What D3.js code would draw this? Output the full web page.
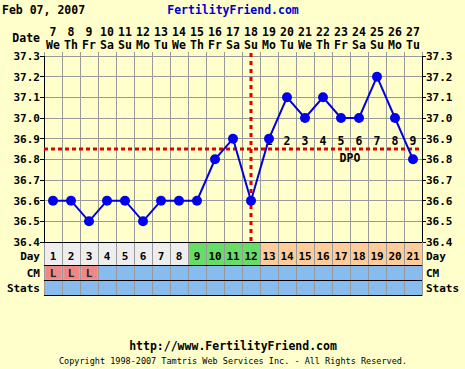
<!DOCTYPE html>
<html><head><meta charset="utf-8">
<script src="https://cdn.jsdelivr.net/npm/d3@7"></script>
<style>body{margin:0;background:#ffffcc;}svg{display:block;}</style>
</head><body>
<script>
const days = d3.range(1, 22);
const dates = [7,8,9,10,11,12,13,14,15,16,17,18,19,20,21,22,23,24,25,26,27];
const weekdays = ["We","Th","Fr","Sa","Su","Mo","Tu","We","Th","Fr","Sa","Su","Mo","Tu","We","Th","Fr","Sa","Su","Mo","Tu"];
const temps = [36.6,36.6,36.5,36.6,36.6,36.5,36.6,36.6,36.6,36.8,36.9,36.6,36.9,37.1,37.0,37.1,37.0,37.0,37.2,37.0,36.8];
const tempTicks = [36.4,36.5,36.6,36.7,36.8,36.9,37.0,37.1,37.2,37.3];
const dayPhase = ["a","a","a","a","a","a","a","a","f","f","f","f","l","l","l","l","l","l","l","l","l"];
const cm = ["L","L","L","","","","","","","","","","","","","","","","","",""];
const coverline = 36.85;
const ovulationDay = 12;
const dpo = [1,2,3,4,5,6,7,8,9];
const dpoDays = [13,14,15,16,17,18,19,20,21];

const W = 465, H = 369;
const L = 44, R = 422, T = 56, B = 242;
const svg = d3.select("body").append("svg").attr("width", W).attr("height", H);
svg.append("rect").attr("width", W).attr("height", H).attr("fill", "#ffffcc");

const font = "'DejaVu Sans Mono', monospace";
const x = d3.scaleBand().domain(days).range([L, R]);
const xc = d => x(d) + x.bandwidth() / 2;
const y = d3.scaleLinear().domain([36.4, 37.3]).range([B, T]);

// title
svg.append("text").attr("x", 2).attr("y", 14).attr("font-family", font).attr("font-weight", "bold")
  .attr("font-size", 11.5).attr("fill", "#000").text("Feb 07, 2007");
svg.append("text").attr("x", 233).attr("y", 14).attr("text-anchor", "middle").attr("font-family", font)
  .attr("font-weight", "bold").attr("font-size", 11.5).attr("fill", "#0000cc").text("FertilityFriend.com");

// header
svg.append("text").attr("x", 40).attr("y", 42).attr("text-anchor", "end").attr("font-family", font)
  .attr("font-weight", "bold").attr("font-size", 11.5).text("Date");
const hdr = svg.append("g").attr("font-family", font).attr("font-weight", "bold").attr("font-size", 11.5).attr("text-anchor", "middle");
hdr.selectAll(".dt").data(days).join("text").attr("x", d => xc(d)).attr("y", 36).text((d, i) => dates[i]);
hdr.selectAll(".wd").data(days).join("text").attr("x", d => xc(d)).attr("y", 49).text((d, i) => weekdays[i]);

// grid
const grid = svg.append("g").attr("stroke", "#999999").attr("stroke-width", 1).attr("shape-rendering", "crispEdges");
grid.selectAll(".v").data(d3.range(0, 22)).join("line")
  .attr("x1", i => L + i * x.bandwidth()).attr("x2", i => L + i * x.bandwidth())
  .attr("y1", T - 4).attr("y2", 295);
grid.selectAll(".h").data(tempTicks).join("line")
  .attr("x1", L).attr("x2", R).attr("y1", d => y(d)).attr("y2", d => y(d));
grid.selectAll(".tl").data(tempTicks).join("line").attr("x1", L - 4).attr("x2", L).attr("y1", d => y(d)).attr("y2", d => y(d)).attr("stroke", "#000");
grid.selectAll(".tr").data(tempTicks).join("line").attr("x1", R).attr("x2", R + 4).attr("y1", d => y(d)).attr("y2", d => y(d)).attr("stroke", "#000");
svg.append("line").attr("x1", L).attr("x2", L).attr("y1", T).attr("y2", 295).attr("stroke", "#000").attr("shape-rendering", "crispEdges");
svg.append("line").attr("x1", R).attr("x2", R).attr("y1", T).attr("y2", 295).attr("stroke", "#000").attr("shape-rendering", "crispEdges");

// axis labels
const ax = svg.append("g").attr("font-family", font).attr("font-weight", "bold").attr("font-size", 11);
ax.selectAll(".yl").data(tempTicks).join("text").attr("x", 40).attr("y", d => y(d) + 4).attr("text-anchor", "end").text(d => d.toFixed(1));
ax.selectAll(".yr").data(tempTicks).join("text").attr("x", 426).attr("y", d => y(d) + 4).text(d => d.toFixed(1));

// bottom rows
const rows = [{name: "Day", base: 259.5}, {name: "CM", base: 276.5}, {name: "Stats", base: 292}];
const phaseColor = {a: "#eeeeee", f: "#66dd66", l: "#ffcc99"};
const cells = svg.append("g").attr("shape-rendering", "crispEdges");
cells.selectAll(".dc").data(days).join("rect").attr("x", d => x(d)).attr("y", 242).attr("width", x.bandwidth()).attr("height", 23)
  .attr("fill", (d, i) => phaseColor[dayPhase[i]]).attr("stroke", "#999999");
cells.selectAll(".cc").data(days).join("rect").attr("x", d => x(d)).attr("y", 265).attr("width", x.bandwidth()).attr("height", 15)
  .attr("fill", "#88bbee").attr("stroke", "#999999");
cells.selectAll(".lc").data(days.filter((d, i) => cm[i])).join("rect").attr("x", d => x(d) + 2).attr("y", 266).attr("width", x.bandwidth() - 3).attr("height", 13)
  .attr("fill", "#ee8888");
cells.selectAll(".sc").data(days).join("rect").attr("x", d => x(d)).attr("y", 280).attr("width", x.bandwidth()).attr("height", 15)
  .attr("fill", "#88bbee").attr("stroke", "#999999");
cells.selectAll(".hl").data([242, 265, 280, 295]).join("line").attr("x1", L).attr("x2", R).attr("y1", d => d).attr("y2", d => d).attr("stroke", "#000");
const rt = svg.append("g").attr("font-family", font).attr("font-weight", "bold").attr("font-size", 11);
rt.selectAll(".dn").data(days).join("text").attr("x", d => xc(d)).attr("y", 259.5).attr("text-anchor", "middle").text(d => d);
rt.selectAll(".cmt").data(days.filter((d, i) => cm[i])).join("text").attr("x", d => xc(d)).attr("y", 276.5).attr("text-anchor", "middle").attr("fill", "#222").text(d => cm[d - 1]);
rt.selectAll(".rl").data(rows).join("text").attr("x", 40).attr("y", d => d.base).attr("text-anchor", "end").text(d => d.name);
rt.selectAll(".rr").data(rows).join("text").attr("x", 426).attr("y", d => d.base).text(d => d.name);

// coverline & ovulation line
svg.append("line").attr("x1", L).attr("x2", R).attr("y1", y(coverline)).attr("y2", y(coverline))
  .attr("stroke", "#dd0000").attr("stroke-width", 3).attr("stroke-dasharray", "4,3");
svg.append("line").attr("x1", xc(ovulationDay)).attr("x2", xc(ovulationDay)).attr("y1", T - 3).attr("y2", B)
  .attr("stroke", "#dd0000").attr("stroke-width", 3).attr("stroke-dasharray", "4,4");

// DPO labels
const dl = svg.append("g").attr("font-family", font).attr("font-weight", "bold").attr("font-size", 11.5).attr("text-anchor", "middle");
dl.selectAll("text").data(dpoDays).join("text").attr("x", d => xc(d)).attr("y", y(coverline) - 4).text((d, i) => dpo[i]);
dl.append("text").attr("x", (xc(17) + xc(18)) / 2).attr("y", y(coverline) + 13).text("DPO");

// temperature line
svg.append("path").datum(temps).attr("fill", "none").attr("stroke", "#0000dd").attr("stroke-width", 2)
  .attr("d", d3.line().x((d, i) => xc(days[i])).y(d => y(d)));
svg.selectAll(".pt").data(temps).join("circle").attr("cx", (d, i) => xc(days[i])).attr("cy", d => y(d)).attr("r", 5)
  .attr("fill", "#0000ee");

// footer
svg.append("text").attr("x", 233).attr("y", 350).attr("text-anchor", "middle").attr("font-family", font)
  .attr("font-weight", "bold").attr("font-size", 11.5).text("http://www.FertilityFriend.com");
svg.append("text").attr("x", 233).attr("y", 364).attr("text-anchor", "middle").attr("font-family", font)
  .attr("font-size", 8.5).text("Copyright 1998-2007 Tamtris Web Services Inc. - All Rights Reserved.");
</script>
</body></html>
